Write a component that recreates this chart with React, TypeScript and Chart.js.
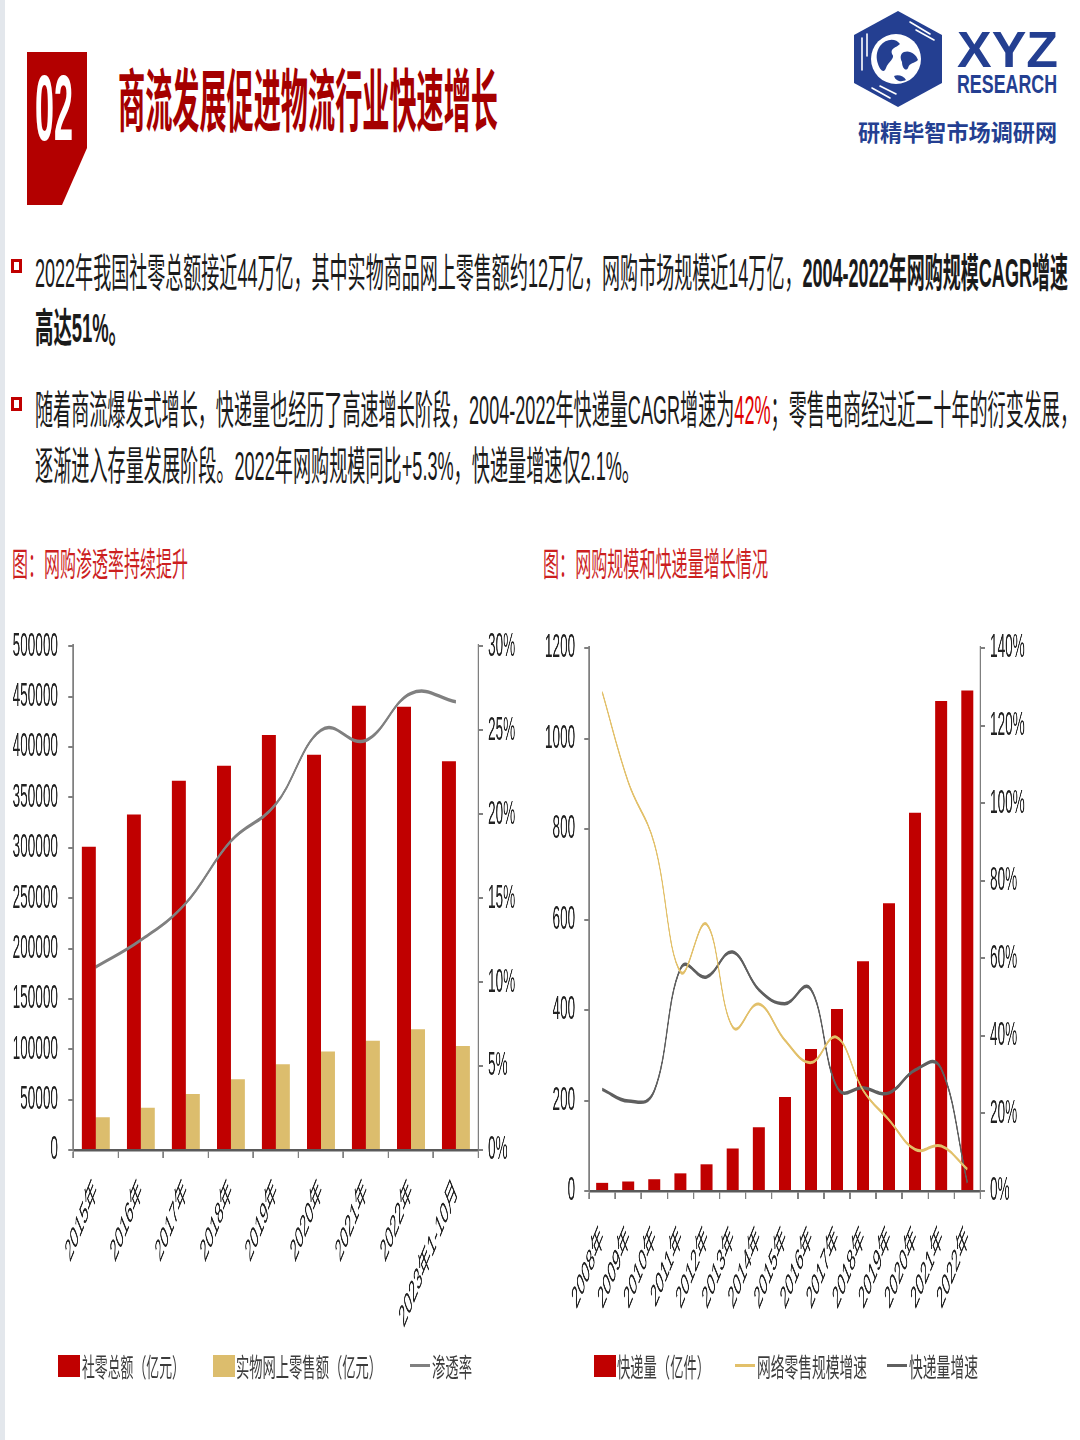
import React, { useEffect, useLayoutEffect, useRef } from "react";
import { Chart, registerables } from "chart.js";

Chart.register(...registerables);

// ---- data: 网购渗透率持续提升 ----
const retailYears = ["2015年", "2016年", "2017年", "2018年", "2019年", "2020年", "2021年", "2022年", "2023年1-10月"];
const retailTotal = [301000, 333000, 366500, 381500, 412000, 392500, 441000, 440000, 386000]; // 社零总额（亿元）
const onlineRetail = [32600, 42000, 55500, 70300, 85200, 97900, 108500, 120000, 103200]; // 实物网上零售额（亿元）
const penetration = [10.9, 12.5, 14.7, 18.4, 20.6, 25.0, 24.4, 27.2, 26.7]; // 渗透率 %
const retailAxisTicks = { min: 0, max: 500000, step: 50000 };
const penetrationAxisTicks = { min: 0, max: 30, step: 5 };

// ---- data: 网购规模和快递量增长情况 ----
const expressYears = ["2008年", "2009年", "2010年", "2011年", "2012年", "2013年", "2014年", "2015年", "2016年", "2017年", "2018年", "2019年", "2020年", "2021年", "2022年"];
const expressVolume = [18, 21, 26, 39, 59, 94, 141, 208, 314, 402, 508, 636, 836, 1083, 1106]; // 快递量（亿件）
const onlineGrowth = [128.6, 105.4, 89.5, 56.5, 68.8, 42.3, 48.2, 38.9, 33.1, 39.6, 26.0, 18.3, 10.7, 11.6, 5.6]; // 网络零售规模增速 %
const expressGrowth = [26.2, 23.2, 25.9, 57.3, 55.2, 61.6, 51.9, 48.3, 52.0, 26.8, 26.6, 25.3, 31.2, 31.5, 2.1]; // 快递量增速 %
const volumeAxisTicks = { min: 0, max: 1200, step: 200 };
const growthAxisTicks = { min: 0, max: 140, step: 20 };

// charts are laid out wide and then narrowed horizontally to the condensed look of the page
const SQUASH = 0.4;
const LATIN_FONT = '"Liberation Sans", "Noto Sans CJK SC", sans-serif';
const CJK_FONT = '"Noto Sans CJK SC", "Liberation Sans", sans-serif';
const RED = "#c00000";
const TAN = "#dcbd6d";
const GOLD = "#e2c06a";
const AXIS_GRAY = "#7f7f7f";
const NAVY = "#243f91";

const tickFont = { family: LATIN_FONT, size: 34 };
const categoryFont = { family: LATIN_FONT, size: 31 };

function categoryAxis(height: number, labelPadding: number) {
  return {
    type: "category" as const,
    offset: true,
    grid: { offset: true, drawOnChartArea: false, drawTicks: true, tickLength: 8, color: AXIS_GRAY, lineWidth: 4 },
    border: { display: true, color: "#5a5a5a", width: 2.5 },
    ticks: { autoSkip: false, minRotation: 45, maxRotation: 45, font: categoryFont, color: "#222", padding: labelPadding },
    afterFit: (s: any) => {
      s.height = height;
    },
  };
}

function valueAxis(
  position: "left" | "right",
  range: { min: number; max: number; step: number },
  width: number,
  padding: number,
  suffix: string
) {
  return {
    type: "linear" as const,
    position,
    min: range.min,
    max: range.max,
    grid: { drawOnChartArea: false, drawTicks: true, tickLength: 12, color: AXIS_GRAY, lineWidth: 2 },
    border: { display: true, color: AXIS_GRAY, width: 4 },
    ticks: {
      stepSize: range.step,
      font: tickFont,
      color: "#222",
      padding,
      callback: (v: any) => `${v}${suffix}`,
    },
    afterFit: (s: any) => {
      s.width = width;
    },
  };
}

function penetrationConfig(): any {
  return {
    type: "bar",
    data: {
      labels: retailYears,
      datasets: [
        {
          type: "line",
          label: "渗透率",
          data: penetration,
          yAxisID: "y1",
          borderColor: "#808080",
          borderWidth: 3.5,
          pointRadius: 0,
          tension: 0.4,
          fill: false,
          order: 0,
        },
        {
          label: "社零总额（亿元）",
          data: retailTotal,
          yAxisID: "y",
          backgroundColor: RED,
          categoryPercentage: 0.62,
          barPercentage: 1.0,
          order: 1,
        },
        {
          label: "实物网上零售额（亿元）",
          data: onlineRetail,
          yAxisID: "y",
          backgroundColor: TAN,
          categoryPercentage: 0.62,
          barPercentage: 1.0,
          order: 1,
        },
      ],
    },
    options: {
      responsive: false,
      animation: false,
      layout: { padding: { top: 44, right: 34, left: 0, bottom: 0 } },
      plugins: { legend: { display: false }, tooltip: { enabled: false } },
      scales: {
        x: categoryAxis(205, 15),
        y: valueAxis("left", retailAxisTicks, 183, 26, ""),
        y1: valueAxis("right", penetrationAxisTicks, 120, 12, "%"),
      },
    },
  };
}

function expressConfig(): any {
  return {
    type: "bar",
    data: {
      labels: expressYears,
      datasets: [
        {
          type: "line",
          label: "网络零售规模增速",
          data: onlineGrowth,
          yAxisID: "y1",
          borderColor: GOLD,
          borderWidth: 3,
          pointRadius: 0,
          tension: 0.4,
          fill: false,
          order: 0,
        },
        {
          type: "line",
          label: "快递量增速",
          data: expressGrowth,
          yAxisID: "y1",
          borderColor: "#5f5f5f",
          borderWidth: 3.5,
          pointRadius: 0,
          tension: 0.4,
          fill: false,
          order: 0,
        },
        {
          label: "快递量（亿件）",
          data: expressVolume,
          yAxisID: "y",
          backgroundColor: RED,
          categoryPercentage: 1.0,
          barPercentage: 0.46,
          order: 1,
        },
      ],
    },
    options: {
      responsive: false,
      animation: false,
      layout: { padding: { top: 48, right: 119, left: 0, bottom: 0 } },
      plugins: { legend: { display: false }, tooltip: { enabled: false } },
      scales: {
        x: categoryAxis(170, 21),
        y: valueAxis("left", volumeAxisTicks, 148, 23, ""),
        y1: valueAxis("right", growthAxisTicks, 130, 12, "%"),
      },
    },
  };
}

function SquashedChart(props: { left: number; top: number; width: number; height: number; makeConfig: () => any }) {
  const ref = useRef<HTMLCanvasElement>(null);
  const { left, top, width, height, makeConfig } = props;
  const w = Math.round(width / SQUASH);
  useEffect(() => {
    const chart = new Chart(ref.current as HTMLCanvasElement, makeConfig());
    return () => chart.destroy();
  }, []);
  return (
    <div
      style={{
        position: "absolute",
        left,
        top,
        width: w,
        height,
        transform: `scaleX(${SQUASH})`,
        transformOrigin: "0 0",
      }}
    >
      <canvas ref={ref} width={w} height={height} style={{ display: "block", width: w, height }} />
    </div>
  );
}

// single line of text condensed horizontally to a given width
function FitText(props: {
  x: number;
  cy: number;
  w: number;
  size: number;
  weight?: number;
  color?: string;
  family?: string;
  children: React.ReactNode;
}) {
  const { x, cy, w, size, weight = 400, color = "#1a1a1a", family = LATIN_FONT, children } = props;
  const ref = useRef<HTMLDivElement>(null);
  useLayoutEffect(() => {
    const el = ref.current as HTMLDivElement;
    const fit = () => {
      el.style.transform = "none";
      const natural = el.getBoundingClientRect().width;
      if (natural > 0) el.style.transform = `scaleX(${w / natural})`;
    };
    fit();
    if ((document as any).fonts && (document as any).fonts.ready) {
      (document as any).fonts.ready.then(fit);
    }
  }, [w]);
  return (
    <div
      ref={ref}
      style={{
        position: "absolute",
        left: x,
        top: cy - size / 2,
        fontSize: size,
        lineHeight: `${size}px`,
        fontWeight: weight,
        color,
        fontFamily: family,
        whiteSpace: "nowrap",
        transformOrigin: "0 0",
      }}
    >
      {children}
    </div>
  );
}

function Bullet({ top }: { top: number }) {
  return (
    <div
      style={{
        position: "absolute",
        left: 11,
        top,
        width: 11,
        height: 14,
        border: `3px solid ${RED}`,
        boxSizing: "border-box",
      }}
    />
  );
}

function Swatch({ x, color }: { x: number; color: string }) {
  return <div style={{ position: "absolute", left: x, top: 1355, width: 22, height: 22, background: color }} />;
}

function LegendLine({ x, color }: { x: number; color: string }) {
  return <div style={{ position: "absolute", left: x, top: 1364, width: 20, height: 3, background: color }} />;
}

function Logo() {
  return (
    <svg style={{ position: "absolute", left: 850, top: 8 }} width={96} height={102} viewBox="0 0 96 102">
      <polygon points="48,3 92,27 92,75 48,99 4,75 4,27" fill={NAVY} />
      <circle cx="46" cy="51" r="25" fill="#fff" />
      <path d="M30,38 C36,30 46,30 50,36 C46,40 40,40 42,46 C46,50 38,54 36,60 C34,66 30,62 28,56 C26,50 26,44 30,38 Z" fill={NAVY} />
      <path d="M54,44 C60,42 66,46 68,52 C64,56 60,54 58,60 C56,64 52,60 52,54 C50,50 50,46 54,44 Z" fill={NAVY} />
      <path d="M44,68 C48,66 54,68 56,72 C52,74 46,74 44,68 Z" fill={NAVY} />
      <g stroke="#fff" strokeWidth="1.6" strokeLinecap="round">
        <line x1="60" y1="14" x2="80" y2="26" />
        <line x1="66" y1="22" x2="84" y2="32" />
        <line x1="12" y1="30" x2="12" y2="62" />
        <line x1="17" y1="26" x2="17" y2="48" />
        <line x1="22" y1="80" x2="40" y2="90" />
        <line x1="30" y1="78" x2="46" y2="86" />
      </g>
    </svg>
  );
}

export default function App() {
  return (
    <div
      style={{
        position: "absolute",
        left: 0,
        top: 0,
        width: 1080,
        height: 1440,
        overflow: "hidden",
        background: "#fff",
      }}
    >
      <div style={{ position: "absolute", left: 0, top: 0, width: 5, height: 1440, background: "#e3e7ec" }} />

      {/* section number */}
      <svg style={{ position: "absolute", left: 0, top: 0 }} width={100} height={220}>
        <polygon points="27,52 87,52 87,148 62,205 27,205" fill="#b30000" />
      </svg>
      <FitText x={35} cy={108} w={38} size={93} weight={700} color="#fff">
        02
      </FitText>
      <FitText x={118} cy={97} w={380} size={68} weight={700} color="#a50000" family={CJK_FONT}>
        商流发展促进物流行业快速增长
      </FitText>

      <Logo />
      <FitText x={957} cy={50} w={101} size={50} weight={700} color={NAVY}>
        XYZ
      </FitText>
      <FitText x={957} cy={84} w={100} size={25} weight={700} color={NAVY}>
        RESEARCH
      </FitText>
      <FitText x={858} cy={131} w={199} size={23} weight={700} color={NAVY} family={CJK_FONT}>
        研精毕智市场调研网
      </FitText>

      {/* summary */}
      <Bullet top={259} />
      <FitText x={35} cy={273} w={1033} size={40}>
        2022年我国社零总额接近44万亿，其中实物商品网上零售额约12万亿，网购市场规模近14万亿，
        <span style={{ fontWeight: 700 }}>2004-2022年网购规模CAGR增速</span>
      </FitText>
      <FitText x={35} cy={328} w={92} size={40} weight={700}>
        高达51%。
      </FitText>
      <Bullet top={397} />
      <FitText x={35} cy={410} w={1043} size={40}>
        随着商流爆发式增长，快递量也经历了高速增长阶段，2004-2022年快递量CAGR增速为
        <span style={{ color: "#e00000" }}>42%</span>；零售电商经过近二十年的衍变发展，
      </FitText>
      <FitText x={35} cy={466} w={605} size={40}>
        逐渐进入存量发展阶段。2022年网购规模同比+5.3%，快递量增速仅2.1%。
      </FitText>

      {/* chart titles */}
      <FitText x={12} cy={562} w={176} size={33} color="#cc1f1f" family={CJK_FONT}>
        图：网购渗透率持续提升
      </FitText>
      <FitText x={543} cy={562} w={225} size={33} color="#cc1f1f" family={CJK_FONT}>
        图：网购规模和快递量增长情况
      </FitText>

      <SquashedChart left={0} top={600} width={540} height={755} makeConfig={penetrationConfig} />
      <SquashedChart left={530} top={600} width={550} height={761} makeConfig={expressConfig} />

      {/* legends */}
      <Swatch x={58} color={RED} />
      <FitText x={82} cy={1366} w={103} size={26} color="#3c3c3c" family={CJK_FONT}>
        社零总额（亿元）
      </FitText>
      <Swatch x={213} color={TAN} />
      <FitText x={236} cy={1366} w={146} size={26} color="#3c3c3c" family={CJK_FONT}>
        实物网上零售额（亿元）
      </FitText>
      <LegendLine x={410} color="#808080" />
      <FitText x={432} cy={1366} w={40} size={26} color="#3c3c3c" family={CJK_FONT}>
        渗透率
      </FitText>

      <Swatch x={594} color={RED} />
      <FitText x={617} cy={1366} w={93} size={26} color="#3c3c3c" family={CJK_FONT}>
        快递量（亿件）
      </FitText>
      <LegendLine x={735} color={GOLD} />
      <FitText x={757} cy={1366} w={110} size={26} color="#3c3c3c" family={CJK_FONT}>
        网络零售规模增速
      </FitText>
      <LegendLine x={887} color="#5f5f5f" />
      <FitText x={909} cy={1366} w={69} size={26} color="#3c3c3c" family={CJK_FONT}>
        快递量增速
      </FitText>
    </div>
  );
}
